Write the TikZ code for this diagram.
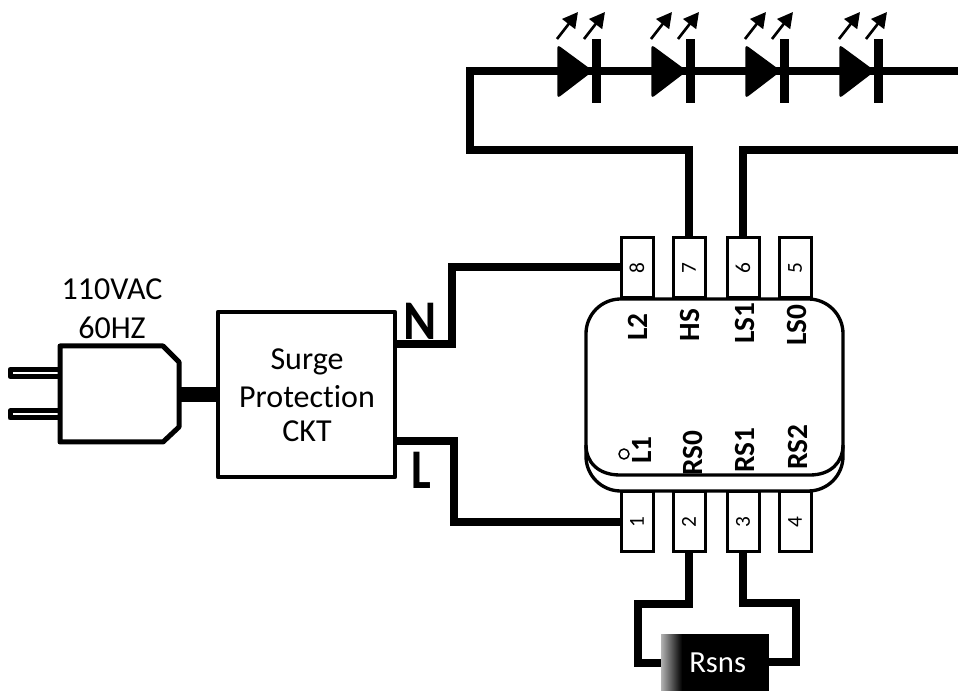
\documentclass[tikz,border=0pt]{standalone}
\usepackage{fontspec}
\usepackage{graphicx}
\setmainfont[RawFeature={-liga;-clig;-dlig;-calt}]{Carlito}
\usetikzlibrary{arrows.meta,calc}
\tikzset{
  wire/.style={line width=5.6pt,line join=miter},
  pinbox/.style={draw,line width=2.25pt,fill=white,minimum width=24pt,minimum height=45pt,inner sep=0pt,outer sep=0pt,font=\fontsize{16}{16}\selectfont},
  pinlabel/.style={rotate=90,font=\bfseries\fontsize{22}{22}\selectfont,inner sep=0pt},
  bigtext/.style={font=\fontsize{24}{24}\selectfont,inner sep=0pt},
  ledbody/.style={fill=black,draw=black,line width=1pt,rounded corners=1.5pt},
  ledlight/.style={line width=2pt,-{Triangle[length=11.5pt,width=12pt]}},
}
\begin{document}
\begin{tikzpicture}[x=0.75pt,y=-0.75pt]
\useasboundingbox (0,0) rectangle (958,691);
% plug
\draw[line width=3.75pt,line join=round] (59,369.5) -- (10,369.5) -- (10,376.5) -- (59,376.5);
\draw[line width=3.75pt,line join=round] (59,411) -- (10,411) -- (10,418) -- (59,418);
\node[inner sep=0pt,outer sep=0pt,minimum size=0pt] (plugout) at (179,394.5) {};
\draw[line width=3.75pt,line join=round,fill=white] (60,346) -- (163,346) -- (179,362) -- (179,427) -- (163,442) -- (60,442) -- cycle;
\node[draw,line width=3.5pt,line join=round,minimum width=132.75pt,minimum height=123.75pt,inner sep=0pt,outer sep=0pt] (surge) at (306.5,394.5) {};
\draw[line width=11pt] (plugout) -- (plugout -| surge.west);
\node[bigtext] (v1) at (112,289) {110VAC};
\node[bigtext] (v2) at (112,328) {60HZ};
\node[bigtext] (s1) at (307,362) {Surge};
\node[bigtext] (s2) at (307,397) {Protection};
\node[bigtext] (s3) at (307,431) {CKT};
\node[font=\bfseries\fontsize{35}{35}\selectfont,inner sep=0pt] (nl) at (420,321) {\scalebox{1.08}[1.2]{N}};
\node[font=\bfseries\fontsize{35}{35}\selectfont,inner sep=0pt] (ll) at (421,470.5) {\scalebox{1}[1.2]{L}};
% pins
\node[pinbox] (p8) at (637,268) {\rotatebox{90}{8}};
\node[pinbox] (p7) at (689,268) {\rotatebox{90}{7}};
\node[pinbox] (p6) at (743,268) {\rotatebox{90}{6}};
\node[pinbox] (p5) at (795,268) {\rotatebox{90}{5}};
\node[pinbox] (p1) at (637,522) {\rotatebox{90}{1}};
\node[pinbox] (p2) at (689,522) {\rotatebox{90}{2}};
\node[pinbox] (p3) at (743,522) {\rotatebox{90}{3}};
\node[pinbox] (p4) at (795,522) {\rotatebox{90}{4}};
% chip
\node[draw,line width=2.5pt,minimum width=192.75pt,minimum height=144pt,inner sep=0pt,outer sep=0pt,rounded corners=26pt] (chip) at (714.5,395) {};
\draw[line width=2.5pt] (chip.west |- 0,445) .. controls (586,462) and (598,475) .. (620,475) -- (810,475) .. controls (831,475) and (843,462) .. (chip.east |- 0,445);
\draw[line width=1.1pt] (624,454) circle (5);
\node[pinlabel] (l2) at (638,327) {L2};
\node[pinlabel] (hs) at (690,325) {HS};
\node[pinlabel] (ls1) at (745,323) {LS1};
\node[pinlabel] (ls0) at (797,325) {LS0};
\node[pinlabel] (l1) at (642,450) {L1};
\node[pinlabel] (rs0) at (693,453) {RS0};
\node[pinlabel] (rs1) at (745,450) {RS1};
\node[pinlabel] (rs2) at (798,447) {RS2};
% mains wires
\draw[wire] (surge.east |- 0,344) -- (452,344) -- (452,267) -- (p8.west |- 0,267);
\draw[wire] (surge.east |- 0,441) -- (454,441) -- (454,522) -- (p1.west);
% LED string
\coordinate (eTop) at (958,71);
\coordinate (eLow) at (958,150);
\draw[wire] (p7.north) -- (p7.north |- 0,150) -- (470,150) -- (470,71) -- (eTop);
\draw[wire] (p6.north) -- (p6.north |- eLow) -- (eLow);
\foreach \dx in {0,94,188,282}{
  \begin{scope}[xshift=\dx*0.75pt]
    \path[ledbody] (558,46) -- (592,71) -- (558,97) -- cycle;
    \fill (592,39) rectangle (601,103);
    \draw[ledlight] (557,39) -- (578,12);
    \draw[ledlight] (584,39) -- (605,12);
  \end{scope}
}
% sense resistor
\node[fill=black,text=white,minimum width=81pt,minimum height=42.75pt,inner sep=0pt,outer sep=0pt,font=\fontsize{23}{23}\selectfont] (rsns) at (715,662.5) {\hspace*{4pt}Rsns};
\shade[left color=black!30,right color=black] (661,634.3) rectangle (682,691);
\draw[wire] (p2.south) -- (p2.south |- 0,604) -- (638,604) -- (638,663) -- (rsns.west |- 0,663);
\draw[wire] (p3.south) -- (p3.south |- 0,603) -- (796,603) -- (796,662) -- (rsns.east |- 0,662);
\end{tikzpicture}
\end{document}
